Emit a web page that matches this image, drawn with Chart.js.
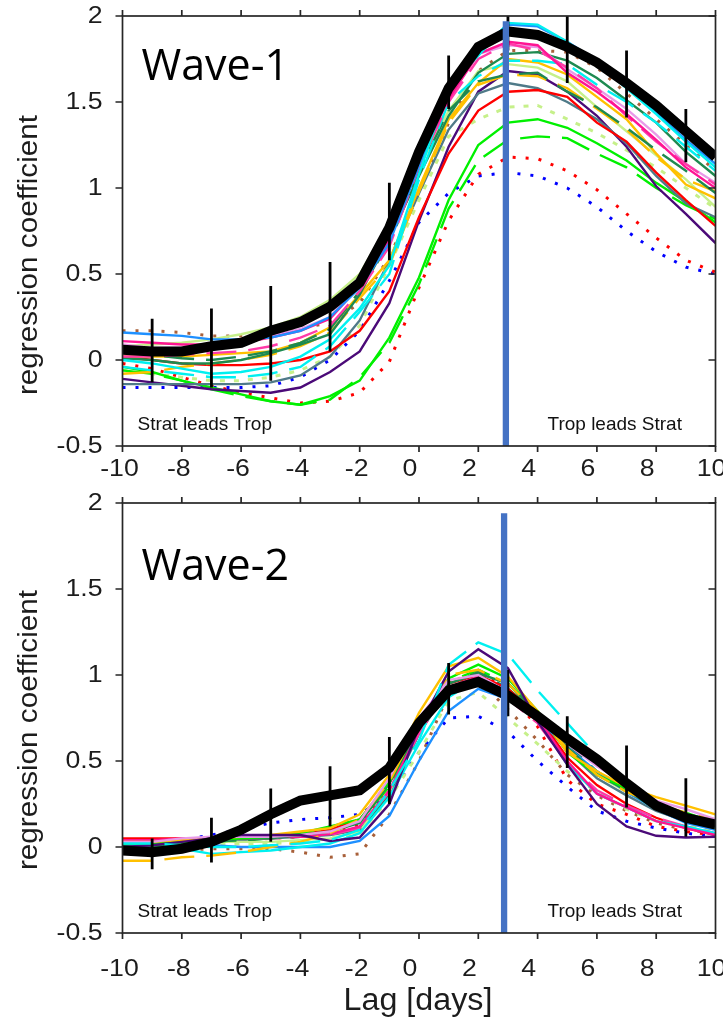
<!DOCTYPE html>
<html>
<head>
<meta charset="utf-8">
<script src="https://cdn.jsdelivr.net/npm/chart.js@4.4.1/dist/chart.umd.min.js"></script>
<style>
html, body { margin: 0; padding: 0; background: #fff; }
#wrap { position: relative; width: 723px; height: 1019px; overflow: hidden; }
.panel { position: absolute; left: 0; }
</style>
</head>
<body>
<div id="wrap">
  <div class="panel" style="top:0"><canvas id="chart-wave1" width="723" height="480"></canvas></div>
  <div class="panel" style="top:480px"><canvas id="chart-wave2" width="723" height="539"></canvas></div>
</div>
<script>
// lags (days) and axis ticks
const lags = [-10,-9,-8,-7,-6,-5,-4,-3,-2,-1,0,1,2,3,4,5,6,7,8,9,10];
const barLags = [-9,-7,-5,-3,-1,1,3,5,7,9];
const xTickValues = [-10,-8,-6,-4,-2,0,2,4,6,8,10];
const xTickLabels = ['-10','-8','-6','-4','-2','0','2','4','6','8','10'];
const yTickValues = [-0.5,0,0.5,1,1.5,2];
const yTickLabels = ['-0.5','0','0.5','1','1.5','2'];

// Wave-1: multi model mean, spread, lag of the split line
const w1Mean = [0.06,0.05,0.05,0.08,0.10,0.17,0.22,0.31,0.45,0.77,1.21,1.58,1.82,1.91,1.89,1.82,1.73,1.61,1.48,1.33,1.18];
const w1ErrLow  = [-0.13,-0.16,-0.12,0.05,0.58,1.46,1.80,1.61,1.41,1.15];
const w1ErrHigh = [0.24,0.30,0.43,0.57,1.03,1.77,2.00,2.00,1.80,1.46];
const w1Split = [2.93, 1.97];

// Wave-1 models
const w1Blue      = [0.16,0.15,0.14,0.12,0.12,0.13,0.17,0.25,0.42,0.68,1.13,1.55,1.80,1.95,1.94,1.85,1.74,1.59,1.44,1.28,1.14];
const w1Cyan      = [0.00,-0.02,-0.05,-0.08,-0.07,-0.04,0.02,0.12,0.30,0.55,1.08,1.59,1.77,1.96,1.95,1.85,1.72,1.58,1.43,1.27,1.12];
const w1CyanDash  = [-0.04,-0.06,-0.08,-0.10,-0.10,-0.08,-0.04,0.08,0.28,0.50,1.05,1.50,1.65,1.74,1.74,1.72,1.60,1.50,1.38,1.24,1.10];
const w1Pink      = [0.11,0.10,0.09,0.09,0.10,0.13,0.17,0.24,0.43,0.70,1.15,1.52,1.78,1.85,1.83,1.67,1.56,1.43,1.28,1.12,1.00];
const w1PinkDash  = [0.02,0.02,0.03,0.04,0.05,0.08,0.13,0.20,0.40,0.66,1.12,1.50,1.75,1.84,1.80,1.70,1.58,1.42,1.27,1.14,1.02];
const w1Violet    = [0.09,0.07,0.07,0.08,0.10,0.14,0.18,0.25,0.45,0.72,1.18,1.52,1.78,1.83,1.82,1.69,1.58,1.46,1.31,1.14,1.03];
const w1Gold      = [0.02,0.02,0.02,0.03,0.04,0.05,0.10,0.19,0.38,0.58,1.00,1.40,1.61,1.75,1.73,1.66,1.53,1.40,1.20,1.02,0.94];
const w1GoldDash  = [-0.08,-0.07,-0.04,-0.02,0.00,0.03,0.08,0.16,0.36,0.55,0.98,1.38,1.60,1.66,1.65,1.58,1.46,1.34,1.18,1.05,0.98];
const w1Green     = [0.01,0.00,-0.02,-0.02,0.00,0.04,0.09,0.15,0.38,0.71,1.07,1.42,1.67,1.78,1.79,1.74,1.64,1.51,1.38,1.21,1.07];
const w1GreenDash = [0.05,0.03,0.01,0.00,0.02,0.05,0.10,0.18,0.40,0.68,1.10,1.45,1.62,1.66,1.67,1.56,1.47,1.35,1.22,1.10,0.97];
const w1Lime      = [-0.04,-0.07,-0.12,-0.16,-0.20,-0.24,-0.26,-0.21,-0.12,0.13,0.48,0.93,1.25,1.38,1.40,1.35,1.26,1.16,1.03,0.92,0.80];
const w1LimeDash  = [-0.06,-0.08,-0.12,-0.17,-0.21,-0.24,-0.26,-0.23,-0.10,0.10,0.44,0.88,1.16,1.28,1.30,1.29,1.20,1.12,1.00,0.90,0.82];
const w1Red       = [0.02,0.00,-0.02,-0.03,-0.03,-0.02,0.00,0.05,0.17,0.40,0.83,1.20,1.45,1.56,1.57,1.53,1.38,1.27,1.09,0.93,0.78];
const w1Indigo    = [-0.11,-0.13,-0.15,-0.17,-0.18,-0.19,-0.16,-0.07,0.05,0.33,0.81,1.24,1.56,1.68,1.66,1.56,1.42,1.24,1.01,0.85,0.68];
const w1Slate     = [-0.14,-0.14,-0.14,-0.14,-0.14,-0.13,-0.09,0.02,0.23,0.58,0.97,1.34,1.55,1.61,1.58,1.50,1.40,1.26,1.07,0.91,0.83];
const w1Pale      = [0.08,0.09,0.10,0.12,0.15,0.19,0.25,0.35,0.50,0.80,1.12,1.45,1.68,1.72,1.70,1.62,1.47,1.33,1.19,1.05,0.89];
const w1PaleDot   = [-0.06,-0.08,-0.10,-0.12,-0.12,-0.10,-0.06,0.02,0.20,0.55,0.93,1.30,1.40,1.47,1.48,1.40,1.32,1.22,1.12,1.00,0.88];
const w1BrownDot  = [0.17,0.17,0.16,0.14,0.14,0.15,0.18,0.22,0.33,0.60,0.97,1.38,1.68,1.80,1.80,1.79,1.70,1.55,1.40,1.25,1.10];
const w1RedDot    = [-0.02,-0.05,-0.10,-0.15,-0.19,-0.22,-0.25,-0.24,-0.19,-0.01,0.42,0.81,1.08,1.18,1.17,1.10,0.99,0.85,0.71,0.58,0.51];
const w1BlueDot   = [-0.16,-0.16,-0.16,-0.16,-0.16,-0.15,-0.10,0.00,0.17,0.46,0.80,0.97,1.07,1.09,1.07,1.00,0.89,0.75,0.63,0.54,0.50];

// Wave-2: multi model mean, spread, lag of the split line
const w2Mean = [-0.02,-0.03,-0.01,0.03,0.10,0.19,0.27,0.30,0.33,0.46,0.72,0.91,0.96,0.88,0.76,0.63,0.51,0.37,0.24,0.17,0.13];
const w2ErrLow  = [-0.13,-0.09,0.03,0.12,0.25,0.77,0.76,0.46,0.23,0.06];
const w2ErrHigh = [0.05,0.17,0.34,0.47,0.64,1.07,1.03,0.76,0.59,0.40];
const w2Split = [2.87, 1.94];

// Wave-2 models
const w2Blue      = [0.03,0.03,0.02,0.01,0.00,0.00,0.00,0.00,0.035,0.18,0.50,0.79,0.92,0.86,0.74,0.58,0.44,0.32,0.22,0.14,0.10];
const w2Cyan      = [0.02,0.01,-0.01,-0.04,-0.03,-0.02,0.00,0.02,0.08,0.29,0.60,0.87,0.98,0.87,0.74,0.48,0.31,0.23,0.15,0.12,0.08];
const w2CyanDash  = [0.02,0.02,0.01,0.00,0.00,0.01,0.02,0.04,0.10,0.33,0.62,1.06,1.19,1.12,0.91,0.72,0.53,0.38,0.25,0.17,0.12];
const w2Pink      = [0.04,0.04,0.05,0.05,0.05,0.06,0.06,0.075,0.12,0.33,0.68,0.93,0.99,0.88,0.75,0.50,0.31,0.23,0.15,0.11,0.07];
const w2PinkDash  = [0.03,0.03,0.04,0.04,0.05,0.05,0.06,0.07,0.11,0.32,0.66,0.92,0.98,0.86,0.72,0.49,0.33,0.24,0.17,0.12,0.08];
const w2Violet    = [0.03,0.03,0.05,0.06,0.06,0.06,0.07,0.09,0.15,0.40,0.75,0.97,1.00,0.90,0.78,0.60,0.47,0.37,0.27,0.22,0.16];
const w2Gold      = [0.03,0.03,0.04,0.05,0.06,0.07,0.09,0.11,0.19,0.42,0.78,1.05,1.10,0.99,0.79,0.55,0.44,0.35,0.29,0.24,0.19];
const w2GoldDash  = [-0.08,-0.08,-0.06,-0.05,-0.03,0.00,0.03,0.08,0.16,0.38,0.72,1.00,1.03,0.95,0.78,0.57,0.42,0.32,0.25,0.20,0.16];
const w2Green     = [0.00,0.00,0.02,0.04,0.05,0.05,0.07,0.09,0.14,0.37,0.70,0.95,1.01,0.95,0.78,0.58,0.42,0.33,0.22,0.16,0.11];
const w2GreenDash = [0.01,0.01,0.02,0.03,0.04,0.05,0.06,0.08,0.10,0.30,0.66,0.93,1.02,0.92,0.78,0.60,0.44,0.33,0.23,0.17,0.12];
const w2Lime      = [0.02,0.02,0.03,0.04,0.05,0.06,0.08,0.12,0.16,0.38,0.72,0.98,1.06,0.98,0.79,0.55,0.42,0.34,0.24,0.20,0.14];
const w2LimeDash  = [0.01,0.01,0.02,0.03,0.04,0.05,0.07,0.10,0.15,0.35,0.70,0.96,1.03,0.95,0.78,0.56,0.43,0.33,0.24,0.19,0.14];
const w2Red       = [0.05,0.05,0.05,0.05,0.05,0.06,0.07,0.10,0.16,0.37,0.72,0.95,1.00,0.92,0.76,0.52,0.36,0.25,0.17,0.11,0.07];
const w2Indigo    = [0.00,0.01,0.03,0.05,0.07,0.07,0.07,0.035,0.055,0.25,0.70,1.02,1.15,1.04,0.73,0.48,0.25,0.12,0.065,0.055,0.06];
const w2Slate     = [0.01,0.01,0.02,0.03,0.04,0.05,0.06,0.07,0.10,0.30,0.66,0.92,0.99,0.90,0.76,0.56,0.40,0.30,0.21,0.15,0.11];
const w2Pale      = [0.02,0.02,0.03,0.03,0.03,0.03,0.04,0.05,0.09,0.32,0.68,0.92,0.97,0.88,0.76,0.58,0.42,0.32,0.22,0.16,0.12];
const w2PaleDot   = [0.01,0.01,0.01,0.01,0.02,0.02,0.03,0.05,0.08,0.28,0.55,0.85,0.90,0.75,0.60,0.44,0.32,0.22,0.15,0.12,0.10];
const w2BrownDot  = [-0.01,-0.02,-0.02,-0.01,-0.01,-0.01,-0.03,-0.06,-0.04,0.19,0.50,0.89,0.97,0.80,0.62,0.42,0.30,0.21,0.14,0.10,0.08];
const w2RedDot    = [0.03,0.03,0.03,0.04,0.04,0.05,0.06,0.08,0.13,0.35,0.66,0.95,1.03,0.90,0.70,0.39,0.25,0.19,0.12,0.09,0.07];
const w2BlueDot   = [0.00,0.02,0.04,0.07,0.10,0.14,0.16,0.17,0.19,0.30,0.55,0.75,0.76,0.67,0.50,0.35,0.21,0.15,0.11,0.08,0.06];

// line styles per model
const DASH = [30, 12];
const DOT = [3, 10];
const styles = {
  blue:      { color: '#1e90ff' },
  cyan:      { color: '#00f0f0' },
  cyanDash:  { color: '#00f0f0', dash: DASH },
  pink:      { color: '#ff1493' },
  pinkDash:  { color: '#ff3aa8', dash: DASH },
  violet:    { color: '#e89ae8' },
  gold:      { color: '#ffc000' },
  goldDash:  { color: '#ffc000', dash: DASH },
  green:     { color: '#1e8a50' },
  greenDash: { color: '#1e8a50', dash: DASH },
  lime:      { color: '#00f000' },
  limeDash:  { color: '#00f000', dash: DASH },
  red:       { color: '#ff0000' },
  indigo:    { color: '#4b0a78' },
  slate:     { color: '#4f7a88' },
  pale:      { color: '#c6f08a' },
  paleDot:   { color: '#c6f08a', dash: [5, 9], width: 3 },
  brownDot:  { color: '#a8603a', dash: DOT, width: 3 },
  redDot:    { color: '#ff0000', dash: DOT, width: 3 },
  blueDot:   { color: '#0000ff', dash: DOT, width: 3 }
};

const w1Models = [
  ['blueDot', w1BlueDot], ['redDot', w1RedDot], ['brownDot', w1BrownDot], ['paleDot', w1PaleDot],
  ['lime', w1Lime], ['limeDash', w1LimeDash], ['indigo', w1Indigo], ['slate', w1Slate], ['red', w1Red],
  ['pale', w1Pale], ['goldDash', w1GoldDash], ['gold', w1Gold], ['greenDash', w1GreenDash],
  ['green', w1Green], ['cyanDash', w1CyanDash], ['violet', w1Violet], ['pinkDash', w1PinkDash],
  ['pink', w1Pink], ['blue', w1Blue], ['cyan', w1Cyan]
];
const w2Models = [
  ['blueDot', w2BlueDot], ['redDot', w2RedDot], ['brownDot', w2BrownDot], ['paleDot', w2PaleDot],
  ['slate', w2Slate], ['pale', w2Pale], ['limeDash', w2LimeDash], ['greenDash', w2GreenDash],
  ['red', w2Red], ['pinkDash', w2PinkDash], ['blue', w2Blue], ['cyan', w2Cyan], ['pink', w2Pink],
  ['green', w2Green], ['lime', w2Lime], ['goldDash', w2GoldDash], ['gold', w2Gold],
  ['violet', w2Violet], ['indigo', w2Indigo], ['cyanDash', w2CyanDash]
];

const AXIS = '#262626';
const TICK_FONT = '23px "Liberation Sans", Arial, sans-serif';

function toPoints(values) {
  return lags.map((x, i) => ({ x, y: values[i] }));
}

function barPoints(lo, hi) {
  // one vertical segment per odd lag, broken by a null point
  return barLags.flatMap((x, i) => [{ x, y: lo[i] }, { x, y: hi[i] }, { x, y: null }]);
}

function buildDatasets(models, mean, lo, hi, split) {
  const sets = [
    { label: 'split', data: [{ x: split[0], y: -0.5 }, { x: split[0], y: split[1] }],
      borderColor: '#4472c4', borderWidth: 6.3, order: 0 },
    { label: 'spread', data: barPoints(lo, hi), borderColor: '#000', borderWidth: 2.8, spanGaps: false, order: 1 },
    { label: 'mean', data: toPoints(mean), borderColor: '#000', borderWidth: 10, order: 2 }
  ];
  models.forEach(([key, values], i) => {
    const st = styles[key];
    sets.push({
      label: key,
      data: toPoints(values),
      borderColor: st.color,
      borderWidth: st.width || 2.4,
      borderDash: st.dash || [],
      order: 100 - i
    });
  });
  return sets;
}

// text stretched sideways, like the figure's widened tick labels
function wideText(ctx, text, x, y, align, sx) {
  ctx.save();
  ctx.translate(x, y);
  ctx.scale(sx, 1);
  ctx.textAlign = align;
  ctx.fillText(text, 0, 0);
  ctx.restore();
}

// frame, ticks, labels and the texts in the panel
const framePlugin = {
  id: 'frame',
  afterDraw(chart, args, opts) {
    const { ctx, chartArea: a, scales: { x, y } } = chart;
    ctx.save();
    ctx.strokeStyle = AXIS;
    ctx.lineWidth = 1.7;
    ctx.strokeRect(a.left, a.top, a.right - a.left, a.bottom - a.top);

    ctx.beginPath();
    xTickValues.forEach(v => {
      const px = x.getPixelForValue(v);
      ctx.moveTo(px, a.top); ctx.lineTo(px, a.top - 6);
      ctx.moveTo(px, a.bottom); ctx.lineTo(px, a.bottom + 6);
    });
    yTickValues.forEach(v => {
      const py = y.getPixelForValue(v);
      ctx.moveTo(a.left, py); ctx.lineTo(a.left - 7, py);
      ctx.moveTo(a.right, py); ctx.lineTo(a.right - 7, py);
    });
    ctx.stroke();

    ctx.fillStyle = '#1c1c1c';
    ctx.font = TICK_FONT;
    ctx.textBaseline = 'middle';
    xTickValues.forEach((v, i) => {
      const shift = v < 0 ? -3 : (v === 10 ? -4 : -9);
      wideText(ctx, xTickLabels[i], x.getPixelForValue(v) + shift, a.bottom + opts.tickY, 'center', 1.16);
    });
    yTickValues.forEach((v, i) => {
      wideText(ctx, yTickLabels[i], a.left - 20, y.getPixelForValue(v) + 1, 'right', 1.16);
    });

    // y title
    ctx.save();
    ctx.translate(30, opts.titleY);
    ctx.rotate(-Math.PI / 2);
    ctx.scale(1.1, 1);
    ctx.textAlign = 'center';
    ctx.font = '27px "Liberation Sans", Arial, sans-serif';
    ctx.fillText('regression coefficient', 0, 0);
    ctx.restore();

    if (opts.xTitle) {
      ctx.save();
      ctx.translate((a.left + a.right) / 2 - 1, a.bottom + 68);
      ctx.scale(1.04, 1);
      ctx.textAlign = 'center';
      ctx.font = '31px "Liberation Sans", Arial, sans-serif';
      ctx.fillText(opts.xTitle, 0, 0);
      ctx.restore();
    }

    ctx.fillStyle = '#000';
    ctx.textBaseline = 'alphabetic';
    ctx.textAlign = 'left';
    ctx.font = '43px "Open Sans", sans-serif';
    ctx.fillText(opts.name, a.left + 19, a.top + opts.nameY);

    ctx.fillStyle = '#111';
    ctx.font = '19px "Liberation Sans", Arial, sans-serif';
    ctx.fillText('Strat leads Trop', a.left + 15, a.bottom - 16);
    ctx.fillText('Trop leads Strat', a.left + 425, a.bottom - 16);
    ctx.restore();
  }
};

function makeChart(id, datasets, frameOpts, padTop, axisH) {
  return new Chart(document.getElementById(id), {
    type: 'line',
    data: { datasets },
    options: {
      responsive: false,
      animation: false,
      layout: { padding: { top: padTop, right: 7.5, left: 0, bottom: 0 } },
      elements: { point: { radius: 0, hoverRadius: 0 }, line: { tension: 0, fill: false } },
      plugins: { legend: { display: false }, tooltip: { enabled: false }, frame: frameOpts },
      scales: {
        x: {
          type: 'linear', min: -10, max: 10,
          grid: { display: false }, border: { display: false }, ticks: { display: false },
          afterFit: s => { s.height = axisH; }
        },
        y: {
          type: 'linear', min: -0.5, max: 2,
          grid: { display: false }, border: { display: false }, ticks: { display: false },
          afterFit: s => { s.width = 122.5; }
        }
      }
    },
    plugins: [framePlugin]
  });
}

makeChart('chart-wave1',
  buildDatasets(w1Models, w1Mean, w1ErrLow, w1ErrHigh, w1Split),
  { name: 'Wave-1', nameY: 64, titleY: 255, tickY: 24 }, 16, 34);

makeChart('chart-wave2',
  buildDatasets(w2Models, w2Mean, w2ErrLow, w2ErrHigh, w2Split),
  { name: 'Wave-2', nameY: 77, titleY: 250, tickY: 37, xTitle: 'Lag [days]' }, 23, 86);
</script>
</body>
</html>
